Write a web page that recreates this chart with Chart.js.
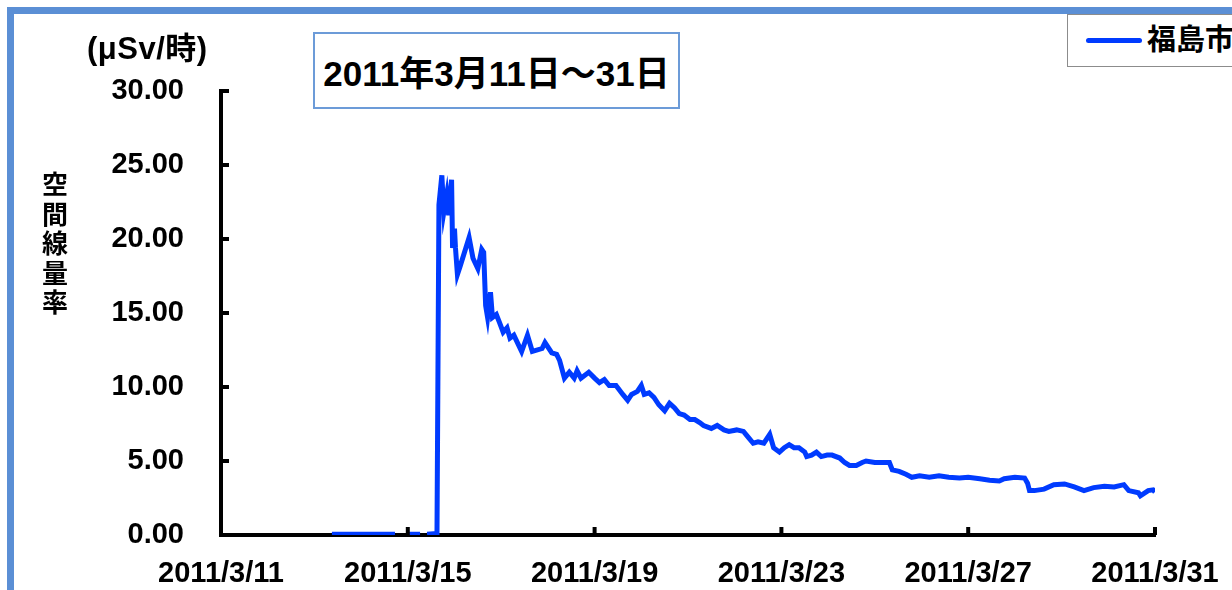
<!DOCTYPE html>
<html>
<head>
<meta charset="utf-8">
<script src="https://cdn.jsdelivr.net/npm/chart.js@4.4.1/dist/chart.umd.min.js"></script>
<style>
  body { margin: 0; background: #fff; overflow: hidden; }
  #wrap { position: relative; width: 1232px; height: 590px; overflow: hidden;
    font-family: "Liberation Sans", Arial, "Noto Sans CJK JP", sans-serif; font-weight: bold; color: #000; }
  #frame { position: absolute; left: 7px; top: 7px; width: 1300px; height: 700px;
    border-top: 7px solid #5b8fd5; border-left: 7px solid #5b8fd5; }
  #myChart { position: absolute; left: 0; top: 0; }
  .unit { position: absolute; left: 87px; top: 31px; font-size: 31px; line-height: 36px; letter-spacing: 0.5px; }
  .ytitle { position: absolute; left: 40px; top: 171px; width: 30px; font-size: 26px; line-height: 29.5px; text-align: center; }
  .title-box { position: absolute; left: 313px; top: 32px; width: 363px; height: 73px;
    border: 2px solid #6c9bd8; display: flex; align-items: center; justify-content: center; font-size: 35px; background: #fff; }
  .legend { position: absolute; left: 1067px; top: 14px; width: 220px; height: 51px;
    border: 1px solid #8c8c8c; background: #fff; }
  .legend .ln { position: absolute; left: 18px; top: 23px; width: 56px; height: 5px; border-radius: 3px; background: #003bff; }
  .legend .tx { position: absolute; left: 79px; top: 9px; font-size: 29px; line-height: 32px; }
</style>
</head>
<body>
<div id="wrap">
  <div id="frame"></div>
  <canvas id="myChart" width="1232" height="590"></canvas>
  <div class="unit">(μSv/時)</div>
  <div class="ytitle">空<br>間<br>線<br>量<br>率</div>
  <div class="title-box">2011年3月11日～31日</div>
  <div class="legend"><div class="ln"></div><div class="tx">福島市</div></div>
</div>
<script>
// hours counted from 2011/3/11 0:00
const hours = [
	57, 89.4, 92, 96.1, 102.3, 104, 105.9, 111,
	112, 113.5, 114.5, 116, 117, 118.5, 119, 120, 120.5, 121.5, 123, 127.5, 129.5, 132, 134, 135,
	136, 137, 138.5, 139.5, 141.5, 143, 145, 147, 148.5, 150.5, 154.5, 157.5, 160, 165, 166.5,
	170, 172.5, 174, 176.5, 179, 181.5, 183, 185, 189, 192, 194.5, 197, 199.5, 203, 206.5,
	209, 211, 214, 216, 217.5, 220, 222.5, 225, 228, 230.5, 233, 235.5, 238, 241, 243.5,
	246, 248, 252, 255, 258.5, 261, 265, 268.5, 271, 273.5, 276, 279, 282, 284, 287,
	289.5, 292, 294.5, 297, 300, 301, 303.5, 306, 308.5, 311.5, 314, 318, 320.5, 323,
	326.5, 329.5, 331.5, 336, 338.5, 343.5, 345, 348.5, 352, 355, 359, 364, 369, 374,
	379.5, 384, 390, 395, 400, 402.5, 408, 413, 414.5, 415.5, 418, 423, 428, 433.5,
	438.5, 443.5, 448.5, 454, 459, 464, 466.5, 471.5, 472.5, 476.5, 479, 480
];
const fukushimaCity = [
	0.05, 0.05, null, 0.05, 0.05, null, 0.05, 0.1,
	22.3, 24.3, 21.8, 23.0, 21.6, 24.0, 19.4, 20.7, 19.4, 17.6, 18.2, 20.1, 18.7, 18.0, 19.3, 19.1,
	15.5, 14.7, 16.4, 14.7, 14.9, 14.4, 13.7, 14.0, 13.3, 13.5, 12.4, 13.5, 12.4, 12.6, 13.0,
	12.3, 12.2, 11.8, 10.6, 11.0, 10.6, 11.1, 10.6, 11.0, 10.6, 10.3, 10.5, 10.1, 10.1, 9.5,
	9.1, 9.5, 9.7, 10.1, 9.5, 9.6, 9.3, 8.8, 8.4, 8.9, 8.6, 8.2, 8.1, 7.8, 7.8,
	7.6, 7.4, 7.2, 7.4, 7.1, 7.0, 7.1, 7.0, 6.6, 6.2, 6.3, 6.2, 6.8, 5.9, 5.6,
	5.9, 6.1, 5.9, 5.9, 5.6, 5.3, 5.4, 5.6, 5.3, 5.4, 5.4, 5.2, 4.9, 4.7,
	4.7, 4.9, 5.0, 4.9, 4.9, 4.9, 4.4, 4.3, 4.1, 3.9, 4.0, 3.9, 4.0, 3.9,
	3.85, 3.9, 3.8, 3.7, 3.65, 3.8, 3.9, 3.85, 3.5, 3.0, 3.0, 3.1, 3.4, 3.45,
	3.25, 3.0, 3.2, 3.3, 3.25, 3.4, 3.0, 2.85, 2.65, 3.0, 3.05, 2.9
];
const yTicks = [0, 5, 10, 15, 20, 25, 30];
const xTickHours = [0, 96, 192, 288, 384, 480];

const FONT = '"Liberation Sans", Arial, "Noto Sans CJK JP", sans-serif';

// small tick marks pointing into the plot
const innerTicks = {
	id: "innerTicks",
	afterDraw(chart) {
		const c = chart.ctx;
		const xs = chart.scales.x;
		const ys = chart.scales.y;
		c.save();
		c.strokeStyle = "#000";
		c.lineWidth = 4;
		xTickHours.forEach((h) => {
			if (h === 0) return;
			const px = xs.getPixelForValue(h);
			c.beginPath();
			c.moveTo(px, ys.bottom);
			c.lineTo(px, ys.bottom - 8);
			c.stroke();
		});
		yTicks.forEach((v) => {
			if (v === 0) return;
			const py = ys.getPixelForValue(v);
			c.beginPath();
			c.moveTo(xs.left, py);
			c.lineTo(xs.left + 8, py);
			c.stroke();
		});
		c.restore();
	},
};

const ctx = document.getElementById("myChart");

new Chart(ctx, {
	type: "line",
	data: {
		datasets: [
			{
				label: "福島市",
				data: hours.map((h, i) => ({ x: h, y: fukushimaCity[i] })),
				borderColor: "#003bff",
				borderWidth: 5,
				pointRadius: 0,
				tension: 0,
				spanGaps: false,
			},
		],
	},
	options: {
		responsive: false,
		animation: false,
		layout: { padding: { top: 91, right: 77, bottom: 0, left: 0 } },
		plugins: {
			legend: { display: false },
			tooltip: { enabled: false },
		},
		scales: {
			x: {
				type: "linear",
				min: 0,
				max: 480,
				afterBuildTicks: (scale) => {
					scale.ticks = xTickHours.map((v) => ({ value: v }));
				},
				afterFit: (scale) => {
					scale.height = 55;
					scale.paddingLeft = 0;
					scale.paddingRight = 0;
				},
				ticks: {
					autoSkip: false,
					maxRotation: 0,
					padding: 22,
					color: "#000",
					font: { family: FONT, size: 29, weight: "bold" },
					callback: (v) => "2011/3/" + (11 + v / 24),
				},
				grid: { drawOnChartArea: false, drawTicks: false },
				border: { color: "#000", width: 4 },
			},
			y: {
				min: 0,
				max: 30,
				afterBuildTicks: (scale) => {
					scale.ticks = yTicks.map((v) => ({ value: v }));
				},
				afterFit: (scale) => {
					scale.width = 221;
				},
				ticks: {
					padding: 37,
					color: "#000",
					font: { family: FONT, size: 29, weight: "bold" },
					callback: (v) => v.toFixed(2),
				},
				grid: { drawOnChartArea: false, drawTicks: false },
				border: { color: "#000", width: 4 },
			},
		},
	},
	plugins: [innerTicks],
});
</script>
</body>
</html>
